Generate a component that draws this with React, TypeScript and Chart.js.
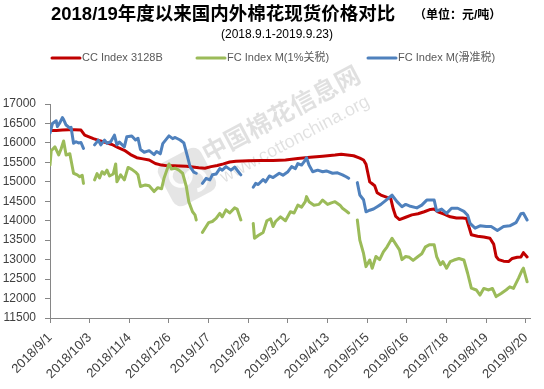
import React, { useEffect, useRef } from "react";
import { Chart, registerables } from "chart.js";

Chart.register(...registerables);

// ---- data ----
const xTickLabels = [
  "2018/9/1", "2018/10/3", "2018/11/4", "2018/12/6", "2019/1/7", "2019/2/8",
  "2019/3/12", "2019/4/13", "2019/5/15", "2019/6/16", "2019/7/18", "2019/8/19", "2019/9/20",
];
const tickStepDays = 32; // days between labelled ticks (day 0 = 2018/9/1)
const axisEndDay = 388;

const seriesLabels = ["CC Index 3128B", "FC Index M(1%关税)", "FC Index M(滑准税)"];

const redDays = [0,5,10,15,20,25,28,35,40,45,50,55,60,65,70,75,80,85,90,95,100,110,120,125,130,135,140,145,150,160,170,180,190,200,210,220,230,235,240,245,250,253,255,257,258,260,262,264,267,272,275,277,279,282,287,292,297,302,307,310,313,318,323,328,333,336,338,340,345,350,355,358,360,362,366,370,373,377,380,382,385];
const redValues = [16320,16320,16330,16340,16340,16330,16200,16110,16060,16010,15960,15880,15810,15700,15620,15590,15560,15470,15430,15410,15410,15400,15360,15350,15390,15420,15460,15510,15530,15540,15550,15550,15560,15600,15630,15660,15690,15710,15690,15670,15610,15560,15450,15150,15000,14950,14900,14720,14660,14600,14570,14300,14110,14030,14090,14150,14180,14230,14290,14300,14230,14170,14100,14070,14070,14060,13850,13640,13600,13580,13550,13400,13080,13000,12960,12950,13030,13060,13070,13180,13070];

const greenDays = [0,1,4,7,9,11,13,16,19,22,24,26,27,30,36,38,40,42,44,46,48,51,53,54,57,60,63,66,69,71,73,77,80,84,87,90,92,96,98,101,104,107,110,112,115,117,118,120,123,126,128,131,134,137,139,142,145,149,151,154,158,164,165,168,172,175,178,180,182,186,190,194,197,200,203,206,207,209,213,217,220,224,227,230,234,236,239,241,244,248,250,253,255,258,260,263,266,269,272,276,279,282,284,287,290,293,297,300,303,306,310,312,315,317,320,323,326,330,334,337,340,344,347,350,354,357,360,364,368,371,374,378,381,382,385];
const greenValues = [15430,15800,15900,15690,15850,16050,15690,15720,15220,15180,15130,15170,14960,null,15050,15210,15100,15260,15200,15300,15150,15200,15460,15000,15180,15050,15370,15320,15250,15180,14880,14920,14900,14750,14850,14820,15090,15460,15330,15350,15300,15220,14880,14490,14230,14150,14020,null,13700,13850,13950,13980,14060,14190,14100,14280,14200,14330,14300,14020,null,13930,13550,13620,13700,14000,14050,13850,13980,14100,14000,14230,14200,14400,14350,14490,14620,14490,14400,14420,14530,14420,14460,14490,14400,14320,14250,14200,null,14020,13500,13160,12820,12990,12780,13080,13000,13200,13330,13550,13400,13250,13000,13080,13060,12980,13080,13150,13330,13380,13380,13080,12870,12950,12780,12950,12990,13030,12990,12650,12270,12220,12090,12260,12220,12260,12050,12130,12220,12300,12260,12520,12730,12780,12430];

const blueDays = [0,2,5,6,8,10,11,13,16,17,19,21,23,25,27,30,36,39,41,44,46,49,52,54,56,60,62,66,69,71,73,76,80,84,86,89,91,96,99,101,105,108,111,113,116,118,120,123,126,129,131,134,137,139,142,146,149,152,154,158,164,166,168,172,174,177,180,185,188,192,195,198,200,203,206,207,209,212,216,220,223,228,232,236,239,241,244,248,250,253,255,258,261,264,267,272,276,280,284,287,290,296,300,304,310,312,316,320,324,329,334,337,339,343,347,352,356,361,366,371,376,380,382,385];
const blueValues = [16250,16500,16570,16420,16520,16650,16600,16460,16380,16400,15990,16030,16000,16010,15860,null,15950,16070,15950,16070,15990,16030,16200,15950,16020,15900,16160,16180,16075,16120,15830,15760,15800,15700,15780,15720,15980,16180,16110,16140,16075,16000,15640,15390,15250,15220,null,14960,15090,15050,15180,15200,15340,15300,15390,15300,15380,15260,15180,null,14860,14960,14930,15060,15000,15150,15110,15220,15170,15260,15390,15340,15470,15430,15560,15620,15430,15260,15300,15260,15280,15220,15230,15180,15130,15090,null,14980,14660,14540,14230,14270,14300,14360,14420,14550,14660,14490,14360,14420,14380,14330,14400,14530,14530,14250,14300,14190,14320,14320,14240,14140,13930,13810,13870,13850,13850,13750,13850,13870,13950,14180,14190,14020];

const yMin = 11500;
const yMax = 17000;
const yStep = 500;

// ---- styling ----
const FONT = '"Liberation Sans", "Noto Sans CJK SC", sans-serif';
const AXIS_COLOR = "#868686";
const TEXT_COLOR = "#404040";

const toPoints = (days: number[], vals: (number | null)[]) =>
  days.map((d, i) => ({ x: d, y: vals[i] }));

const overlayPlugin = {
  id: "overlay",
  beforeDatasetsDraw(chart: any) {
    const ctx = chart.ctx as CanvasRenderingContext2D;
    const ang = (-28 * Math.PI) / 180;
    // faint watermark logo
    ctx.save();
    ctx.translate(187, 177);
    ctx.rotate(ang);
    ctx.fillStyle = "rgba(0,0,0,0.1)";
    const s = 48;
    const r = 9;
    ctx.beginPath();
    ctx.moveTo(-s / 2 + r, -s / 2);
    ctx.arcTo(s / 2, -s / 2, s / 2, s / 2, r);
    ctx.arcTo(s / 2, s / 2, -s / 2, s / 2, r);
    ctx.arcTo(-s / 2, s / 2, -s / 2, -s / 2, r);
    ctx.arcTo(-s / 2, -s / 2, s / 2, -s / 2, r);
    ctx.closePath();
    ctx.fill();
    ctx.strokeStyle = "rgba(255,255,255,0.9)";
    ctx.lineWidth = 4;
    ctx.beginPath();
    ctx.arc(-5, -4, 10, 0, Math.PI * 1.6);
    ctx.stroke();
    ctx.beginPath();
    ctx.arc(6, 7, 10, Math.PI, Math.PI * 2.6);
    ctx.stroke();
    ctx.restore();

    ctx.save();
    ctx.translate(208, 163);
    ctx.rotate(ang);
    ctx.fillStyle = "rgba(0,0,0,0.12)";
    ctx.font = `bold 25px ${FONT}`;
    ctx.textBaseline = "alphabetic";
    ctx.textAlign = "left";
    ctx.fillText("中国棉花信息网", 0, 0);
    ctx.restore();

    ctx.save();
    ctx.translate(224, 183);
    ctx.rotate(ang);
    ctx.fillStyle = "rgba(0,0,0,0.12)";
    ctx.font = `18px ${FONT}`;
    ctx.textBaseline = "alphabetic";
    ctx.fillText("www.cottonchina.org", 0, 0);
    ctx.restore();
  },
  afterDraw(chart: any) {
    const ctx = chart.ctx as CanvasRenderingContext2D;
    ctx.save();
    ctx.textBaseline = "middle";
    ctx.textAlign = "left";
    ctx.fillStyle = "#000";
    ctx.font = `bold 18.5px ${FONT}`;
    ctx.fillText("2018/19年度以来国内外棉花现货价格对比", 51, 15);
    ctx.font = `bold 12px ${FONT}`;
    ctx.fillText("（单位：元/吨）", 414, 16);
    ctx.font = `12px ${FONT}`;
    ctx.textAlign = "center";
    ctx.fillText("(2018.9.1-2019.9.23)", 277, 35);

    // legend
    const starts = [52, 197, 368];
    ctx.textAlign = "left";
    ctx.font = `11px ${FONT}`;
    chart.data.datasets.forEach((ds: any, i: number) => {
      const x = starts[i];
      const y = 58;
      ctx.strokeStyle = ds.borderColor;
      ctx.lineWidth = 3;
      ctx.lineCap = "round";
      ctx.beginPath();
      ctx.moveTo(x, y);
      ctx.lineTo(x + 28, y);
      ctx.stroke();
      ctx.fillStyle = "#595959";
      ctx.fillText(ds.label, x + 30, y);
    });
    ctx.restore();
  },
};

export default function App() {
  const ref = useRef<HTMLCanvasElement>(null);
  useEffect(() => {
    document.body.style.margin = "0";
    const canvas = ref.current;
    if (!canvas) return;
    Chart.defaults.font.family = FONT;
    const common = {
      pointRadius: 0,
      pointHoverRadius: 0,
      borderWidth: 3,
      tension: 0,
      fill: false,
      spanGaps: false,
      borderJoinStyle: "round" as const,
      borderCapStyle: "round" as const,
    };
    const chart = new Chart(canvas, {
      type: "line",
      data: {
        datasets: [
          { ...common, label: seriesLabels[0], data: toPoints(redDays, redValues), borderColor: "#C00000", backgroundColor: "#C00000", order: 3 },
          { ...common, label: seriesLabels[1], data: toPoints(greenDays, greenValues), borderColor: "#9BBB59", backgroundColor: "#9BBB59", order: 2 },
          { ...common, label: seriesLabels[2], data: toPoints(blueDays, blueValues), borderColor: "#4F81BD", backgroundColor: "#4F81BD", order: 1 },
        ],
      },
      options: {
        responsive: false,
        animation: false,
        events: [],
        layout: { padding: { top: 104, right: 9, left: 0, bottom: 0 } },
        plugins: {
          legend: { display: false },
          title: { display: false },
          tooltip: { enabled: false },
        },
        scales: {
          x: {
            type: "linear",
            min: 0,
            max: axisEndDay,
            afterBuildTicks: (s: any) => {
              s.ticks = xTickLabels.map((_, i) => ({ value: i * tickStepDays }));
            },
            afterFit: (s: any) => {
              s.height = 71;
            },
            ticks: {
              autoSkip: false,
              maxRotation: 45,
              minRotation: 45,
              padding: 7,
              color: TEXT_COLOR,
              font: { size: 13, family: FONT },
              callback: (v: any) => xTickLabels[Math.round(Number(v) / tickStepDays)] ?? "",
            },
            grid: { display: true, drawOnChartArea: false, drawTicks: true, tickLength: 5, color: AXIS_COLOR },
            border: { display: true, color: AXIS_COLOR, width: 1 },
          },
          y: {
            min: yMin,
            max: yMax,
            afterFit: (s: any) => {
              s.width = 50;
            },
            ticks: {
              stepSize: yStep,
              padding: 9,
              color: TEXT_COLOR,
              font: { size: 12, family: FONT },
              callback: (v: any) => String(v),
            },
            grid: { display: true, drawOnChartArea: false, drawTicks: true, tickLength: 5, color: AXIS_COLOR },
            border: { display: true, color: AXIS_COLOR, width: 1 },
          },
        },
      },
      plugins: [overlayPlugin],
    });
    return () => chart.destroy();
  }, []);
  return (
    <div style={{ width: 544, height: 389 }}>
      <canvas ref={ref} width={544} height={389} style={{ display: "block" }} />
    </div>
  );
}
